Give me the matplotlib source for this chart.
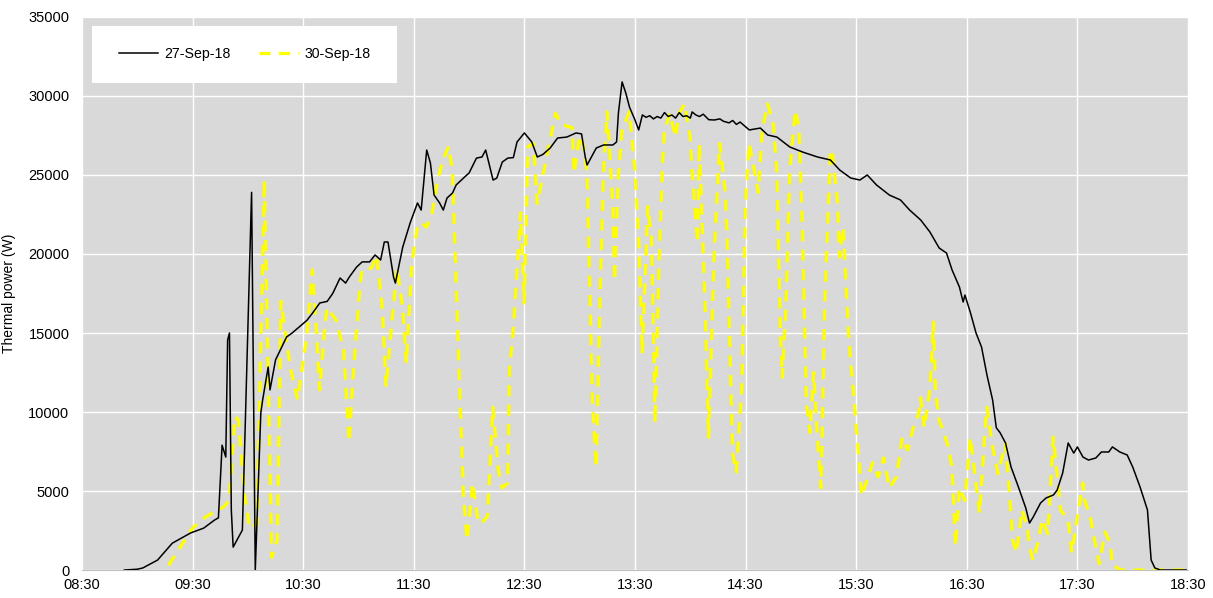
import pandas as pd
import matplotlib.pyplot as plt
import matplotlib.dates as mdates
from matplotlib.patches import Rectangle

plt.rcParams['font.family'] = ['Liberation Sans', 'DejaVu Sans']

# 27-Sep-18 thermal power (W)
t_27 = ["08:53", "09:00", "09:03", "09:11", "09:19", "09:29", "09:36", "09:42", "09:44", "09:46",
        "09:48", "09:49", "09:50", "09:51", "09:52", "09:57", "10:02", "10:04", "10:07", "10:08",
        "10:11", "10:12", "10:15", "10:21", "10:24", "10:28", "10:32", "10:35", "10:39", "10:43",
        "10:46", "10:50", "10:53", "10:55", "10:59", "11:02", "11:06", "11:09", "11:12", "11:14",
        "11:16", "11:19", "11:20", "11:24", "11:28", "11:32", "11:34", "11:37", "11:39", "11:41",
        "11:44", "11:46", "11:48", "11:51", "11:53", "11:57", "12:00", "12:04", "12:07", "12:09",
        "12:11", "12:13", "12:15", "12:18", "12:21", "12:24", "12:26", "12:30", "12:34", "12:37",
        "12:40", "12:44", "12:48", "12:53", "12:58", "13:01", "13:03", "13:04", "13:09", "13:13",
        "13:18", "13:20", "13:21", "13:23", "13:25", "13:27", "13:30", "13:32", "13:34", "13:36",
        "13:38", "13:40", "13:42", "13:44", "13:46", "13:48", "13:50", "13:52", "13:54", "13:56",
        "13:58", "14:00", "14:01", "14:03", "14:05", "14:07", "14:10", "14:13", "14:16", "14:18",
        "14:21", "14:23", "14:25", "14:27", "14:32", "14:38", "14:42", "14:47", "14:54", "15:01",
        "15:09", "15:16", "15:21", "15:27", "15:32", "15:36", "15:41", "15:48", "15:54", "15:59",
        "16:05", "16:10", "16:15", "16:19", "16:22", "16:26", "16:28", "16:29", "16:32", "16:35",
        "16:38", "16:41", "16:44", "16:46", "16:48", "16:51", "16:54", "16:58", "17:02", "17:04",
        "17:06", "17:10", "17:13", "17:17", "17:19", "17:22", "17:25", "17:28", "17:30", "17:33",
        "17:36", "17:40", "17:43", "17:47", "17:49", "17:53", "17:57", "18:00", "18:04", "18:08",
        "18:10", "18:12", "18:15", "18:29"]
p_27 = [0, 50, 130, 630, 1700, 2350, 2650, 3170, 3300, 7900,
        7150, 14550, 15000, 3800, 1450, 2530, 23900, 0, 9940, 10760,
        12850, 11400, 13300, 14750, 15000, 15400, 15800, 16250, 16900, 17000,
        17500, 18480, 18160, 18540, 19180, 19500, 19500, 19940, 19620, 20760,
        20760, 18540, 18160, 20440, 21960, 23230, 22780, 26580, 25760, 23730,
        23230, 22780, 23540, 23860, 24370, 24810, 25130, 26070, 26140, 26580,
        25630, 24680, 24800, 25820, 26070, 26100, 27090, 27660, 27090, 26140,
        26300, 26710, 27340, 27400, 27660, 27600, 26140, 25630, 26710, 26900,
        26900, 27090, 28920, 30890, 30190, 29300, 28480, 27850, 28800, 28650,
        28750, 28550, 28700, 28600, 28950, 28700, 28800, 28600, 28950, 28700,
        28750, 28600, 28990, 28800, 28700, 28850, 28500, 28480, 28550, 28400,
        28300, 28450, 28200, 28350, 27850, 27970, 27530, 27400, 26770, 26450,
        26140, 25950, 25320, 24810, 24680, 25000, 24370, 23730, 23420, 22780,
        22150, 21390, 20380, 20060, 18990, 17910, 16960, 17400, 16270, 15000,
        14110, 12300, 10760, 9000, 8700, 8040, 6520, 5250, 3920, 2970,
        3350, 4240, 4560, 4750, 5060, 6140, 8040, 7400, 7790, 7150,
        6960, 7090, 7470, 7470, 7790, 7470, 7280, 6520, 5250, 3800,
        630, 130, 0, 0]

# 30-Sep-18 thermal power (W)
t_30 = ["09:17", "09:30", "09:37", "09:47", "09:50", "09:53", "09:55", "09:58", "10:01", "10:05",
        "10:09", "10:13", "10:16", "10:18", "10:23", "10:27", "10:32", "10:35", "10:37", "10:39",
        "10:42", "10:43", "10:48", "10:52", "10:55", "10:57", "11:01", "11:02", "11:07", "11:10",
        "11:13", "11:15", "11:18", "11:21", "11:24", "11:26", "11:29", "11:32", "11:34", "11:37",
        "11:40", "11:43", "11:46", "11:49", "11:51", "11:54", "11:57", "11:59", "12:02", "12:05",
        "12:07", "12:10", "12:13", "12:16", "12:18", "12:21", "12:22", "12:24", "12:28", "12:30",
        "12:32", "12:35", "12:37", "12:41", "12:45", "12:47", "12:50", "12:56", "12:57", "13:00",
        "13:02", "13:04", "13:07", "13:09", "13:11", "13:13", "13:15", "13:18", "13:19", "13:21",
        "13:23", "13:27", "13:30", "13:32", "13:34", "13:37", "13:39", "13:41", "13:43", "13:45",
        "13:46", "13:49", "13:52", "13:54", "13:57", "14:00", "14:01", "14:04", "14:05", "14:08",
        "14:10", "14:13", "14:16", "14:19", "14:20", "14:23", "14:25", "14:28", "14:30", "14:32",
        "14:37", "14:39", "14:42", "14:45", "14:47", "14:49", "14:50", "14:52", "14:54", "14:57",
        "14:59", "15:01", "15:03", "15:05", "15:07", "15:09", "15:11", "15:13", "15:16", "15:17",
        "15:20", "15:21", "15:23", "15:26", "15:29", "15:32", "15:33", "15:36", "15:39", "15:42",
        "15:45", "15:48", "15:52", "15:55", "15:58", "16:01", "16:04", "16:05", "16:07", "16:10",
        "16:12", "16:13", "16:15", "16:17", "16:20", "16:22", "16:24", "16:26", "16:29", "16:32",
        "16:34", "16:37", "16:40", "16:41", "16:44", "16:47", "16:51", "16:53", "16:55", "16:57",
        "17:00", "17:03", "17:04", "17:06", "17:09", "17:11", "17:14", "17:17", "17:19", "17:21",
        "17:25", "17:27", "17:33", "17:34", "17:37", "17:40", "17:42", "17:45", "17:48", "17:49",
        "17:54", "18:30"]
p_30 = [300, 2650, 3350, 4000, 4400, 9700, 9500, 5000, 2650, 2900,
        24700, 800, 1900, 17000, 12850, 10800, 14800, 19000, 15600, 11400,
        15700, 16600, 15800, 13900, 8100, 12100, 18200, 19000, 19100, 19900,
        16500, 11600, 15500, 19100, 16600, 13100, 19400, 21700, 22000, 21700,
        22600, 24700, 26000, 26800, 25300, 14700, 4600, 1900, 5500, 3000,
        3000, 3400, 10300, 6300, 5200, 5500, 12700, 15200, 22600, 16900,
        26800, 27000, 23200, 25500, 27800, 28900, 28200, 28000, 25100, 27500,
        26800, 25300, 10600, 6500, 16900, 25300, 29000, 23200, 18300, 24900,
        27800, 29000, 25300, 21100, 13700, 23000, 21000, 9300, 19000, 25800,
        27800, 28900, 27400, 28900, 29500, 27400, 25300, 20700, 27000, 16900,
        8400, 20000, 27000, 24000, 21000, 7400, 6200, 11600, 23200, 27000,
        23900, 27800, 29500, 28300, 25300, 14700, 12200, 16900, 25300, 29100,
        28000, 21100, 10600, 8700, 12500, 8400, 5200, 16900, 26400, 26600,
        23200, 19800, 21700, 14700, 10600, 6300, 4700, 5700, 6800, 5900,
        7100, 5200, 5900, 8400, 7600, 9000, 9900, 10900, 9000, 11400,
        15700, 11400, 9500, 8900, 7800, 6500, 1500, 5200, 4400, 8400,
        6500, 3600, 9000, 10300, 7800, 6100, 8000, 5200, 1900, 1100,
        3800, 2700, 1500, 600, 1900, 3200, 2300, 8400, 6100, 3800,
        3200, 1100, 5500, 4400, 3400, 1500, 400, 2400, 1700, 300,
        0, 0]

day = "2018-09-27 "
x_27 = pd.to_datetime([day + t for t in t_27])
x_30 = pd.to_datetime([day + t for t in t_30])

fig = plt.figure(figsize=(12.13, 5.98), dpi=100)
ax = fig.add_axes([0.0676, 0.0468, 0.9118, 0.9248])
ax.set_facecolor('#d9d9d9')

ax.plot(x_27, p_27, color='black', lw=1.1, label='27-Sep-18', zorder=3)
ax.plot(x_30, p_30, color='#ffff00', lw=2.3, dashes=(3.5, 2.6), label='30-Sep-18', zorder=2)

ax.set_xlim(pd.Timestamp(day + "08:30"), pd.Timestamp(day + "18:30"))
ax.set_ylim(0, 35000)
ax.set_yticks(range(0, 35001, 5000))
ax.xaxis.set_major_locator(mdates.MinuteLocator(byminute=[30]))
ax.xaxis.set_major_formatter(mdates.DateFormatter('%H:%M'))

ax.grid(True, color='white', lw=1.0)
ax.set_axisbelow(True)
for s in ['top', 'right', 'left']:
    ax.spines[s].set_visible(False)
ax.spines['bottom'].set_color('#bfbfbf')
ax.tick_params(length=0, labelsize=10.5, colors='black')
ax.tick_params(axis='x', pad=5.5)
ax.tick_params(axis='y', pad=9)
ax.set_ylabel('Thermal power (W)', fontsize=10, labelpad=9)

# white legend box
ax.add_patch(Rectangle((0.009, 0.881), 0.276, 0.103, transform=ax.transAxes,
                       facecolor='white', edgecolor='none', zorder=4))
ax.legend(loc='center', bbox_to_anchor=(0.147, 0.9325), ncol=2, frameon=False,
          fontsize=10.2, handlelength=2.8, handletextpad=0.4, columnspacing=2.0)

fig.savefig('out.png', dpi=100)
